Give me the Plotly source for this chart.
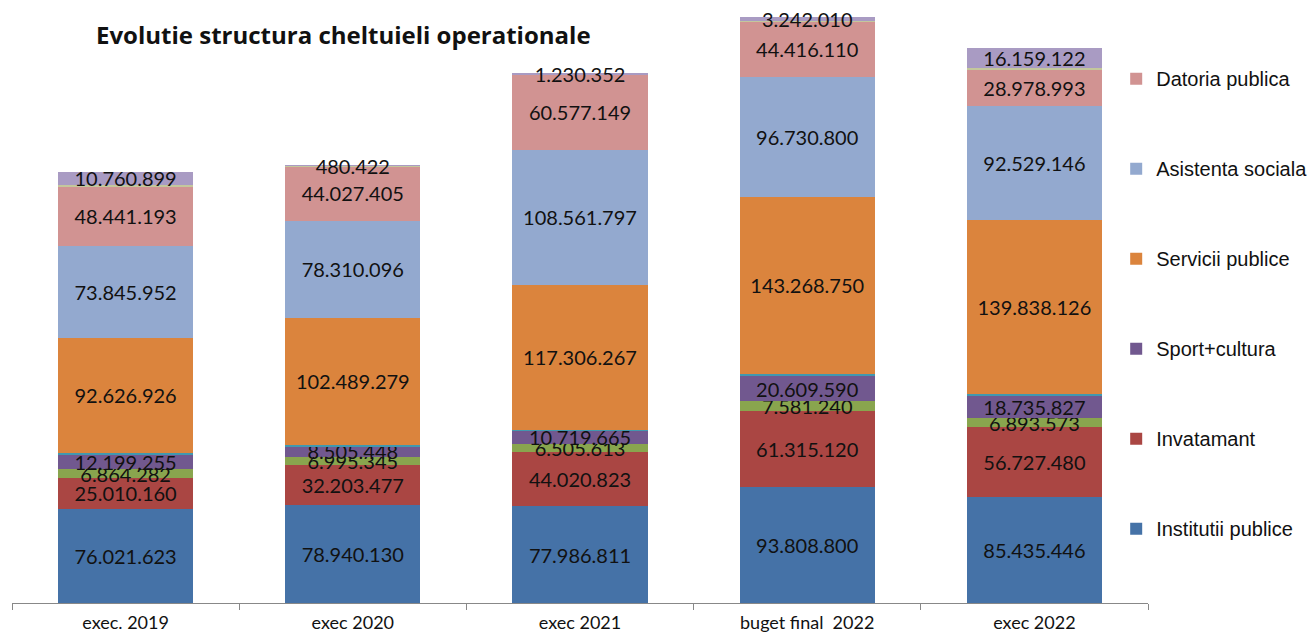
import plotly.graph_objects as go

categories = ["exec. 2019", "exec 2020", "exec 2021", "buget final  2022", "exec 2022"]

institutii_publice = [76021623, 78940130, 77986811, 93808800, 85435446]
invatamant = [25010160, 32203477, 44020823, 61315120, 56727480]
sanatate = [6864282, 6995345, 6505613, 7581240, 6893573]
sport_cultura = [12199255, 8505448, 10719665, 20609590, 18735827]
alte_mici = [1300000, 900000, 400000, 1200000, 1100000]
servicii_publice = [92626926, 102489279, 117306267, 143268750, 139838126]
asistenta_sociala = [73845952, 78310096, 108561797, 96730800, 92529146]
datoria_publica = [48441193, 44027405, 60577149, 44416110, 28978993]
alte_mici2 = [1000000, 300000, 300000, 700000, 1200000]
altele = [10760899, 480422, 1230352, 3242010, 16159122]

def fmt(v):
    return f"{v:,}".replace(",", ".")

series = [
    ("Institutii publice", institutii_publice, "#4572A7", True, True),
    ("Invatamant", invatamant, "#AA4643", True, True),
    ("Sanatate", sanatate, "#89A54E", False, True),
    ("Sport+cultura", sport_cultura, "#71588F", True, True),
    ("Alte", alte_mici, "#4198AF", False, False),
    ("Servicii publice", servicii_publice, "#DB843D", True, True),
    ("Asistenta sociala", asistenta_sociala, "#93A9CF", True, True),
    ("Datoria publica", datoria_publica, "#D19392", True, True),
    ("Alte 2", alte_mici2, "#C4C79C", False, False),
    ("Altele", altele, "#A99BC3", False, True),
]

fig = go.Figure()
for i, (name, vals, color, show, lab) in enumerate(series):
    fig.add_trace(go.Bar(
        x=categories, y=vals, name=name,
        marker=dict(color=color, line=dict(width=0)),
        text=[fmt(v) for v in vals] if lab else None,
        textposition="inside" if lab else "none",
        insidetextanchor="middle",
        textangle=0,
        textfont=dict(family="Lato", size=20, color="#111111"),
        showlegend=show,
        legendgroup=f"g{i}",
        legendrank=1000 - i * 10,
        hoverinfo="skip",
    ))

fig.update_layout(
    barmode="stack",
    bargap=0.405,
    width=1308, height=627,
    margin=dict(l=4, r=168, t=0, b=32, autoexpand=False),
    paper_bgcolor="white", plot_bgcolor="white",
    uniformtext=dict(minsize=20, mode="show"),
    legend=dict(
        x=0.972, xanchor="left", y=0.914, yanchor="top",
        traceorder="grouped", tracegroupgap=61,
        font=dict(family="Liberation Sans", size=20, color="#111111"),
        itemwidth=30,
    ),
    annotations=[dict(
        text="<b>Evolutie structura cheltuieli operationale</b>",
        xref="paper", yref="paper", x=0.072, y=0.955,
        xanchor="left", yanchor="middle", showarrow=False,
        font=dict(family="Open Sans", size=24, color="#111111"),
    )],
)
fig.update_xaxes(
    type="category", tickson="boundaries", ticks="outside", ticklen=6,
    tickcolor="#888888", showline=True, linecolor="#888888", linewidth=1,
    tickfont=dict(family="Lato", size=18, color="#111111"),
    ticklabelstandoff=3, automargin=False,
    showgrid=False,
)
fig.update_yaxes(range=[0, 480000000], visible=False, showgrid=False, automargin=False)

fig.write_html("out.html")
